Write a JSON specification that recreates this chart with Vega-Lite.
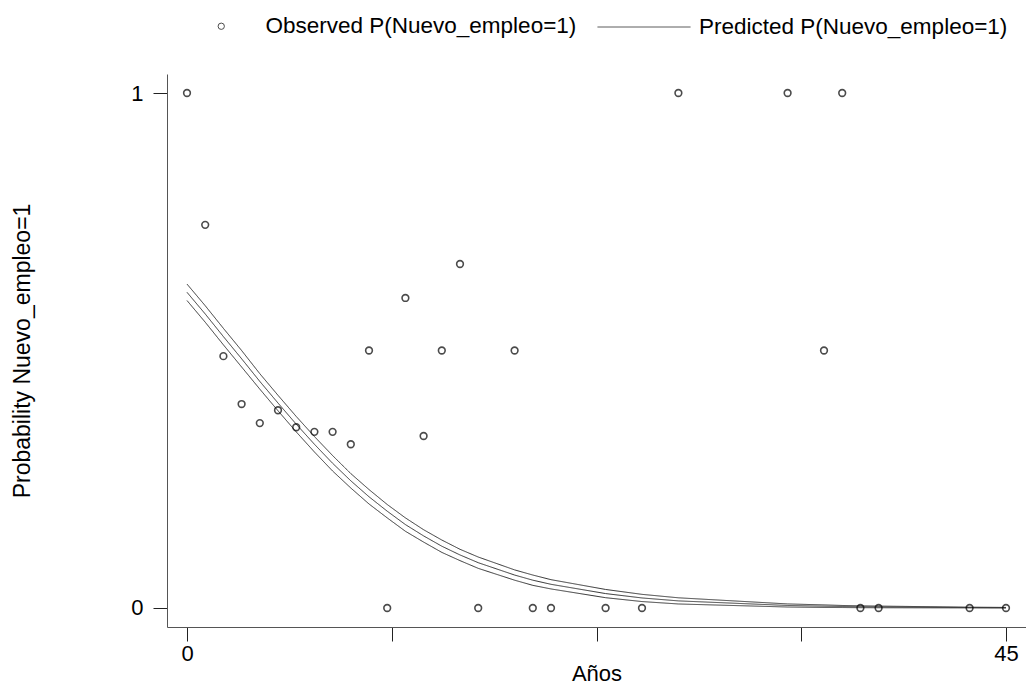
{
  "$schema": "https://vega.github.io/schema/vega-lite/v6.json",
  "width": 859,
  "height": 553,
  "autosize": {"type": "none"},
  "padding": {"left": 167, "top": 74, "right": 0, "bottom": 59},
  "background": "white",
  "config": {
    "font": "Liberation Sans",
    "view": {"stroke": null},
    "axis": {"grid": false, "labelFont": "Liberation Sans", "titleFont": "Liberation Sans", "labelFontSize": 22, "titleFontSize": 22, "labelColor": "#000", "titleColor": "#000", "titleFontWeight": "normal", "domainColor": "#555", "tickColor": "#222", "tickSize": 14, "labelFlush": false, "labelOverlap": false},
    "legend": {"labelFont": "Liberation Sans", "labelFontSize": 22.5, "labelColor": "#000", "padding": 0, "labelLimit": 0}
  },
  "datasets": {
    "obs": [
      {"anos": 0, "p": 1}, {"anos": 1, "p": 0.744}, {"anos": 2, "p": 0.489}, {"anos": 3, "p": 0.396},
      {"anos": 4, "p": 0.359}, {"anos": 5, "p": 0.384}, {"anos": 6, "p": 0.351}, {"anos": 7, "p": 0.342},
      {"anos": 8, "p": 0.342}, {"anos": 9, "p": 0.318}, {"anos": 10, "p": 0.5}, {"anos": 11, "p": 0},
      {"anos": 12, "p": 0.602}, {"anos": 13, "p": 0.334}, {"anos": 14, "p": 0.5}, {"anos": 15, "p": 0.668},
      {"anos": 16, "p": 0}, {"anos": 18, "p": 0.5}, {"anos": 19, "p": 0}, {"anos": 20, "p": 0},
      {"anos": 23, "p": 0}, {"anos": 25, "p": 0}, {"anos": 27, "p": 1}, {"anos": 33, "p": 1},
      {"anos": 35, "p": 0.5}, {"anos": 36, "p": 1}, {"anos": 37, "p": 0}, {"anos": 38, "p": 0},
      {"anos": 43, "p": 0}, {"anos": 45, "p": 0}
    ],
    "pred": [
      {"anos": 0, "mid": 0.613, "upper": 0.629, "lower": 0.597},
      {"anos": 1, "mid": 0.571, "upper": 0.587, "lower": 0.555},
      {"anos": 2, "mid": 0.527, "upper": 0.543, "lower": 0.511},
      {"anos": 3, "mid": 0.484, "upper": 0.500, "lower": 0.468},
      {"anos": 4, "mid": 0.440, "upper": 0.455, "lower": 0.425},
      {"anos": 5, "mid": 0.398, "upper": 0.413, "lower": 0.383},
      {"anos": 6, "mid": 0.357, "upper": 0.372, "lower": 0.342},
      {"anos": 7, "mid": 0.318, "upper": 0.333, "lower": 0.303},
      {"anos": 8, "mid": 0.281, "upper": 0.296, "lower": 0.266},
      {"anos": 9, "mid": 0.247, "upper": 0.261, "lower": 0.233},
      {"anos": 10, "mid": 0.216, "upper": 0.230, "lower": 0.202},
      {"anos": 11, "mid": 0.188, "upper": 0.201, "lower": 0.175},
      {"anos": 12, "mid": 0.162, "upper": 0.175, "lower": 0.149},
      {"anos": 13, "mid": 0.140, "upper": 0.152, "lower": 0.128},
      {"anos": 14, "mid": 0.120, "upper": 0.132, "lower": 0.108},
      {"anos": 15, "mid": 0.103, "upper": 0.114, "lower": 0.092},
      {"anos": 16, "mid": 0.088, "upper": 0.099, "lower": 0.077},
      {"anos": 18, "mid": 0.064, "upper": 0.074, "lower": 0.054},
      {"anos": 19, "mid": 0.054, "upper": 0.064, "lower": 0.044},
      {"anos": 20, "mid": 0.046, "upper": 0.055, "lower": 0.037},
      {"anos": 23, "mid": 0.028, "upper": 0.036, "lower": 0.020},
      {"anos": 25, "mid": 0.0195, "upper": 0.0265, "lower": 0.0125},
      {"anos": 27, "mid": 0.0138, "upper": 0.0198, "lower": 0.0078},
      {"anos": 33, "mid": 0.0049, "upper": 0.0079, "lower": 0.0019},
      {"anos": 35, "mid": 0.0035, "upper": 0.006, "lower": 0.001},
      {"anos": 36, "mid": 0.0029, "upper": 0.0049, "lower": 0.0009},
      {"anos": 37, "mid": 0.0024, "upper": 0.0042, "lower": 0.0006},
      {"anos": 38, "mid": 0.0021, "upper": 0.0037, "lower": 0.0005},
      {"anos": 43, "mid": 0.0009, "upper": 0.0016, "lower": 0.0002},
      {"anos": 45, "mid": 0.0006, "upper": 0.0011, "lower": 0.0001}
    ]
  },
  "encoding": {
    "x": {"field": "anos", "type": "quantitative", "scale": {"domain": [-1.099, 46.099], "nice": false, "zero": false},
      "axis": {"values": [0, 11.25, 22.5, 33.75, 45], "format": "d", "labelExpr": "datum.value == 0 || datum.value == 45 ? datum.label : ''", "title": "Años", "labelPadding": 2, "titleY": 53, "titleBaseline": "alphabetic"}},
    "y": {"type": "quantitative", "scale": {"domain": [-0.0369, 1.0369], "nice": false, "zero": false},
      "axis": {"values": [0, 0.25, 0.5, 0.75, 1], "format": "d", "labelExpr": "datum.value == 0 || datum.value == 1 ? datum.label : ''", "title": "Probability Nuevo_empleo=1", "titleFontSize": 23, "labelPadding": 10, "titleX": -145, "titleBaseline": "middle"}}
  },
  "layer": [
    {
      "data": {"name": "pred"},
      "transform": [{"fold": ["upper", "mid", "lower"], "as": ["band", "pval"]}],
      "mark": {"type": "line", "color": "#333", "strokeWidth": 1},
      "encoding": {
        "y": {"field": "pval", "type": "quantitative"},
        "detail": {"field": "band"},
        "strokeDash": {"datum": "Predicted P(Nuevo_empleo=1)", "scale": {"range": [[1, 0]]},
          "legend": {"title": null, "orient": "none", "legendX": 430, "legendY": -94, "symbolType": "stroke", "symbolSize": 8649, "symbolStrokeWidth": 1, "symbolStrokeColor": "#444", "labelOffset": 8}}
      }
    },
    {
      "data": {"name": "obs"},
      "mark": {"type": "point", "filled": false, "color": "#000", "size": 45, "strokeWidth": 1.6},
      "encoding": {
        "y": {"field": "p", "type": "quantitative"},
        "shape": {"datum": "Observed P(Nuevo_empleo=1)", "scale": {"range": ["circle"]},
          "legend": {"title": null, "orient": "none", "legendX": 43, "legendY": -59, "symbolSize": 40, "symbolStrokeWidth": 1, "symbolStrokeColor": "#000", "labelOffset": 33}}
      }
    }
  ]
}
